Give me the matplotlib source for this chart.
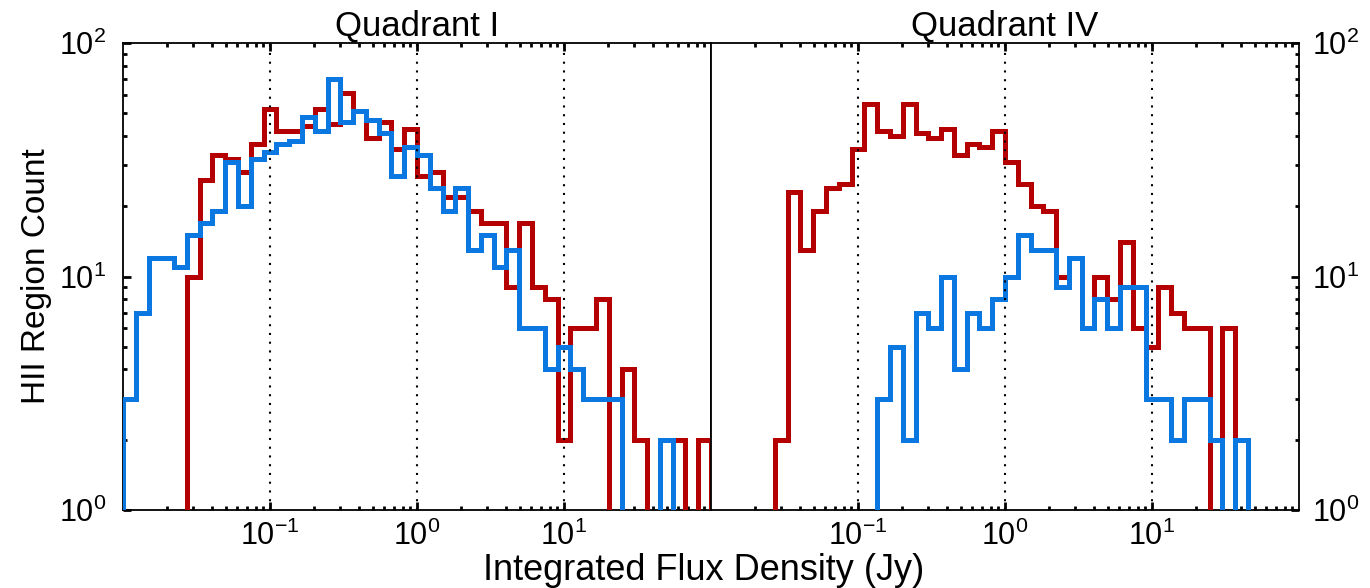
import numpy as np
import matplotlib
matplotlib.use("Agg")
import matplotlib.pyplot as plt
from matplotlib.ticker import LogLocator, NullFormatter

# 46 log-spaced flux bins per panel, 0.01 Jy to 100 Jy
n_bins = 46
flux_range = (0.01, 100.0)

# Quadrant I counts
q1_red = [0, 0, 0, 0, 0, 10, 26, 33, 32, 28, 37, 52, 42, 42, 44, 52, 45, 61,
          51, 39, 46, 35, 43, 27, 28, 22, 22, 19, 17, 17, 9, 17, 9, 8, 2, 6,
          6, 8, 0, 4, 2, 0, 0, 2, 0, 2]
q1_blue = [3, 7, 12, 12, 11, 15, 17, 19, 31, 20, 32, 34, 37, 38, 48, 42, 70,
           46, 51, 47, 41, 27, 36, 33, 24, 19, 24, 13, 15, 11, 13, 6, 6, 4, 5,
           4, 3, 3, 3, 0, 0, 0, 2, 0, 0, 0]

# Quadrant IV counts
q4_red = [0, 0, 0, 0, 0, 2, 23, 13, 19, 24, 25, 35, 55, 42, 40, 55, 41, 39,
          43, 33, 37, 36, 42, 31, 25, 20, 19, 10, 12, 6, 10, 8, 14, 6, 5, 9,
          7, 6, 6, 0, 6, 0, 0, 0, 0, 0]
q4_blue = [0, 0, 0, 0, 0, 0, 0, 0, 0, 0, 0, 0, 0, 3, 5, 2, 7, 6, 10, 4, 7, 6,
           8, 10, 15, 13, 13, 9, 12, 6, 8, 6, 9, 9, 3, 3, 2, 3, 3, 2, 0, 2,
           0, 0, 0, 0]

titles = ["Quadrant I", "Quadrant IV"]
grid_x = [0.1, 1.0, 10.0]

RED = "#b40000"
BLUE = "#0a78e0"


def style_axis(ax, side):
    """log axes, inward ticks, dotted decade lines"""
    ax.set_xscale("log")
    ax.set_yscale("log")
    ax.set_xlim(*flux_range)
    ax.set_ylim(1, 100)
    ax.set_xticks(grid_x)
    ax.xaxis.set_minor_locator(LogLocator(base=10, subs=np.arange(2, 10)))
    ax.xaxis.set_minor_formatter(NullFormatter())
    ax.yaxis.set_minor_locator(LogLocator(base=10, subs=np.arange(2, 10)))
    ax.yaxis.set_minor_formatter(NullFormatter())
    left = side == "left"
    ax.tick_params(which="both", direction="in", top=True, bottom=True,
                   left=left, right=not left, labelleft=left,
                   labelright=not left, labelsize=22, width=2)
    ax.tick_params(which="major", length=6)
    ax.tick_params(which="minor", length=3)
    ax.tick_params(axis="y", pad=12 if left else 9)
    ax.tick_params(axis="x", pad=8)
    for sp in ax.spines.values():
        sp.set_linewidth(1.3)
    for x in grid_x:
        ax.axvline(x, color="black", lw=1.5, ls=(0, (1.0, 3.2)), zorder=5)


def main():
    plt.rcParams["font.family"] = ["Liberation Sans", "DejaVu Sans"]
    plt.rcParams["axes.unicode_minus"] = False

    edges = np.logspace(np.log10(flux_range[0]), np.log10(flux_range[1]),
                        n_bins + 1)

    fig = plt.figure(figsize=(13.7, 5.88), dpi=100)
    ax1 = fig.add_axes([123 / 1370, 78 / 588, 588 / 1370, 467 / 588])
    ax2 = fig.add_axes([711 / 1370, 78 / 588, 588 / 1370, 467 / 588])

    for ax, red, blue, title, side in [(ax1, q1_red, q1_blue, titles[0], "left"),
                                       (ax2, q4_red, q4_blue, titles[1], "right")]:
        ax.stairs(red, edges, baseline=0, color=RED, lw=3.6, zorder=3)
        ax.stairs(blue, edges, baseline=0, color=BLUE, lw=3.6, zorder=4)
        style_axis(ax, side)
        ax.set_title(title, fontsize=25, pad=5)

    ax1.set_ylabel("HII Region Count", fontsize=24, labelpad=5)
    fig.text(704 / 1370, 1 - 570 / 588, "Integrated Flux Density (Jy)",
             fontsize=26, ha="center", va="center")

    fig.savefig("out.png", dpi=100)


if __name__ == "__main__":
    main()
